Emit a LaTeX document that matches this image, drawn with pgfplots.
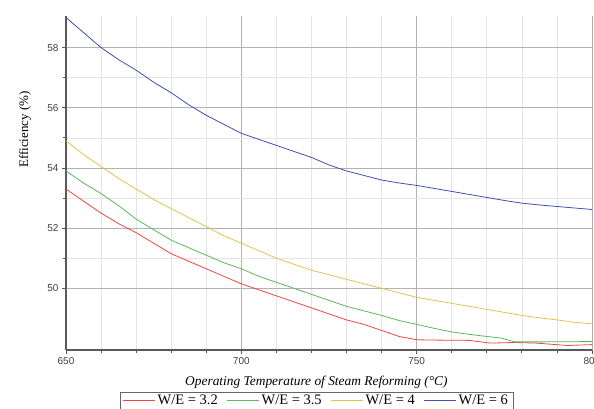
\documentclass[border=0pt]{standalone}
\usepackage{pgfplots}
\pgfplotsset{compat=1.18}
\usepackage{fontspec}
\setmainfont{Liberation Serif}
\newfontfamily\tickfont{Liberation Sans}
\definecolor{cred}{RGB}{235,70,70}
\definecolor{cgreen}{RGB}{90,185,90}
\definecolor{cyellow}{RGB}{225,195,80}
\definecolor{cblue}{RGB}{65,80,175}
\pgfplotsset{
  legend image code/.code={\draw[#1] (0pt,0pt) -- (32pt,0pt);},
}
\begin{document}
\begin{tikzpicture}[x=1pt,y=1pt]
\begin{axis}[
  at={(0,0)}, anchor=south west,
  scale only axis, width=526pt, height=334pt,
  xmin=650, xmax=800, ymin=47.95, ymax=59.05,
  axis lines=left, axis line style={draw=black!65, line width=1.2pt, -},
  xtick={650,700,750,800}, ytick={50,52,54,56,58},
  minor x tick num=4, minor y tick num=1,
  tick style={draw=black!65, line width=0.8pt},
  tick align=outside, major tick length=4pt, minor tick length=3pt,
  grid=both,
  major grid style={draw=black!30, line width=0.7pt},
  minor grid style={draw=black!10, line width=0.7pt},
  ticklabel style={font=\tickfont\fontsize{10}{12}\selectfont, text=black!75},
  /pgf/number format/assume math mode=true,
  /pgf/number format/1000 sep={},
  xlabel={\itshape Operating Temperature of Steam Reforming (°C)},
  x label style={at={(axis description cs:0.476,-0.068)}, anchor=north, font=\fontsize{13.4}{15}\selectfont},
  ylabel={Efficiency (\%)},
  y label style={at={(axis description cs:-0.078,0.66)}, anchor=center, font=\fontsize{13}{15}\selectfont},
  legend columns=4,
  legend style={at={(axis description cs:0.476,-0.125)}, anchor=north, draw=black!60, line width=0.6pt,
    inner ysep=1pt,
    font=\fontsize{14.5}{16}\selectfont, /tikz/every even column/.append style={column sep=7pt}},
  legend image post style={line width=0.8pt},
  every axis plot/.append style={line width=0.8pt},
]
\addplot[color=cred] coordinates {
(650,53.3) (655,52.9) (660,52.5) (665,52.15) (670,51.85) (675,51.5) (680,51.15) (685,50.9) (690,50.65)
(695,50.4) (700,50.15) (705,49.95) (710,49.75) (715,49.55) (720,49.35) (725,49.15) (730,48.95)
(735,48.8) (740,48.6) (745,48.4) (750,48.29) (755,48.28) (765,48.27) (771,48.18) (778,48.2) (784,48.18) (793,48.1) (800,48.13)};
\addlegendentry{W/E = 3.2}
\addplot[color=cgreen] coordinates {
(650,53.9) (655,53.5) (660,53.15) (665,52.75) (670,52.3) (675,51.95) (680,51.6) (685,51.35) (690,51.1)
(695,50.85) (700,50.65) (705,50.4) (710,50.2) (715,50.0) (720,49.8) (725,49.6) (730,49.4) (735,49.25)
(740,49.1) (745,48.93) (750,48.8) (755,48.67) (760,48.55) (765,48.47) (770,48.4) (774,48.35) (778,48.22) (785,48.22) (800,48.23)};
\addlegendentry{W/E = 3.5}
\addplot[color=cyellow] coordinates {
(650,54.9) (655,54.45) (660,54.05) (665,53.65) (670,53.3) (675,52.95) (680,52.65) (685,52.35) (690,52.05)
(695,51.75) (700,51.5) (705,51.25) (710,51.0) (715,50.8) (720,50.6) (725,50.45) (730,50.3) (735,50.15)
(740,50.0) (745,49.85) (750,49.7) (755,49.6) (760,49.5) (765,49.4) (770,49.3) (775,49.2) (780,49.1) (785,49.02) (790,48.95) (795,48.87) (800,48.82)};
\addlegendentry{W/E = 4}
\addplot[color=cblue] coordinates {
(650,59.0) (655,58.5) (660,58.0) (665,57.6) (670,57.25) (675,56.85) (680,56.5) (685,56.1) (690,55.75)
(695,55.45) (700,55.15) (705,54.95) (710,54.75) (715,54.55) (720,54.35) (725,54.1) (730,53.9) (735,53.75)
(740,53.6) (745,53.5) (750,53.42) (755,53.32) (760,53.22) (765,53.12) (770,53.02) (775,52.92) (780,52.83) (785,52.77) (790,52.72) (795,52.67) (800,52.62)};
\addlegendentry{W/E = 6}
\end{axis}
\pgfresetboundingbox
\path[use as bounding box] (-66,-58) rectangle (528,350);
\end{tikzpicture}
\end{document}
